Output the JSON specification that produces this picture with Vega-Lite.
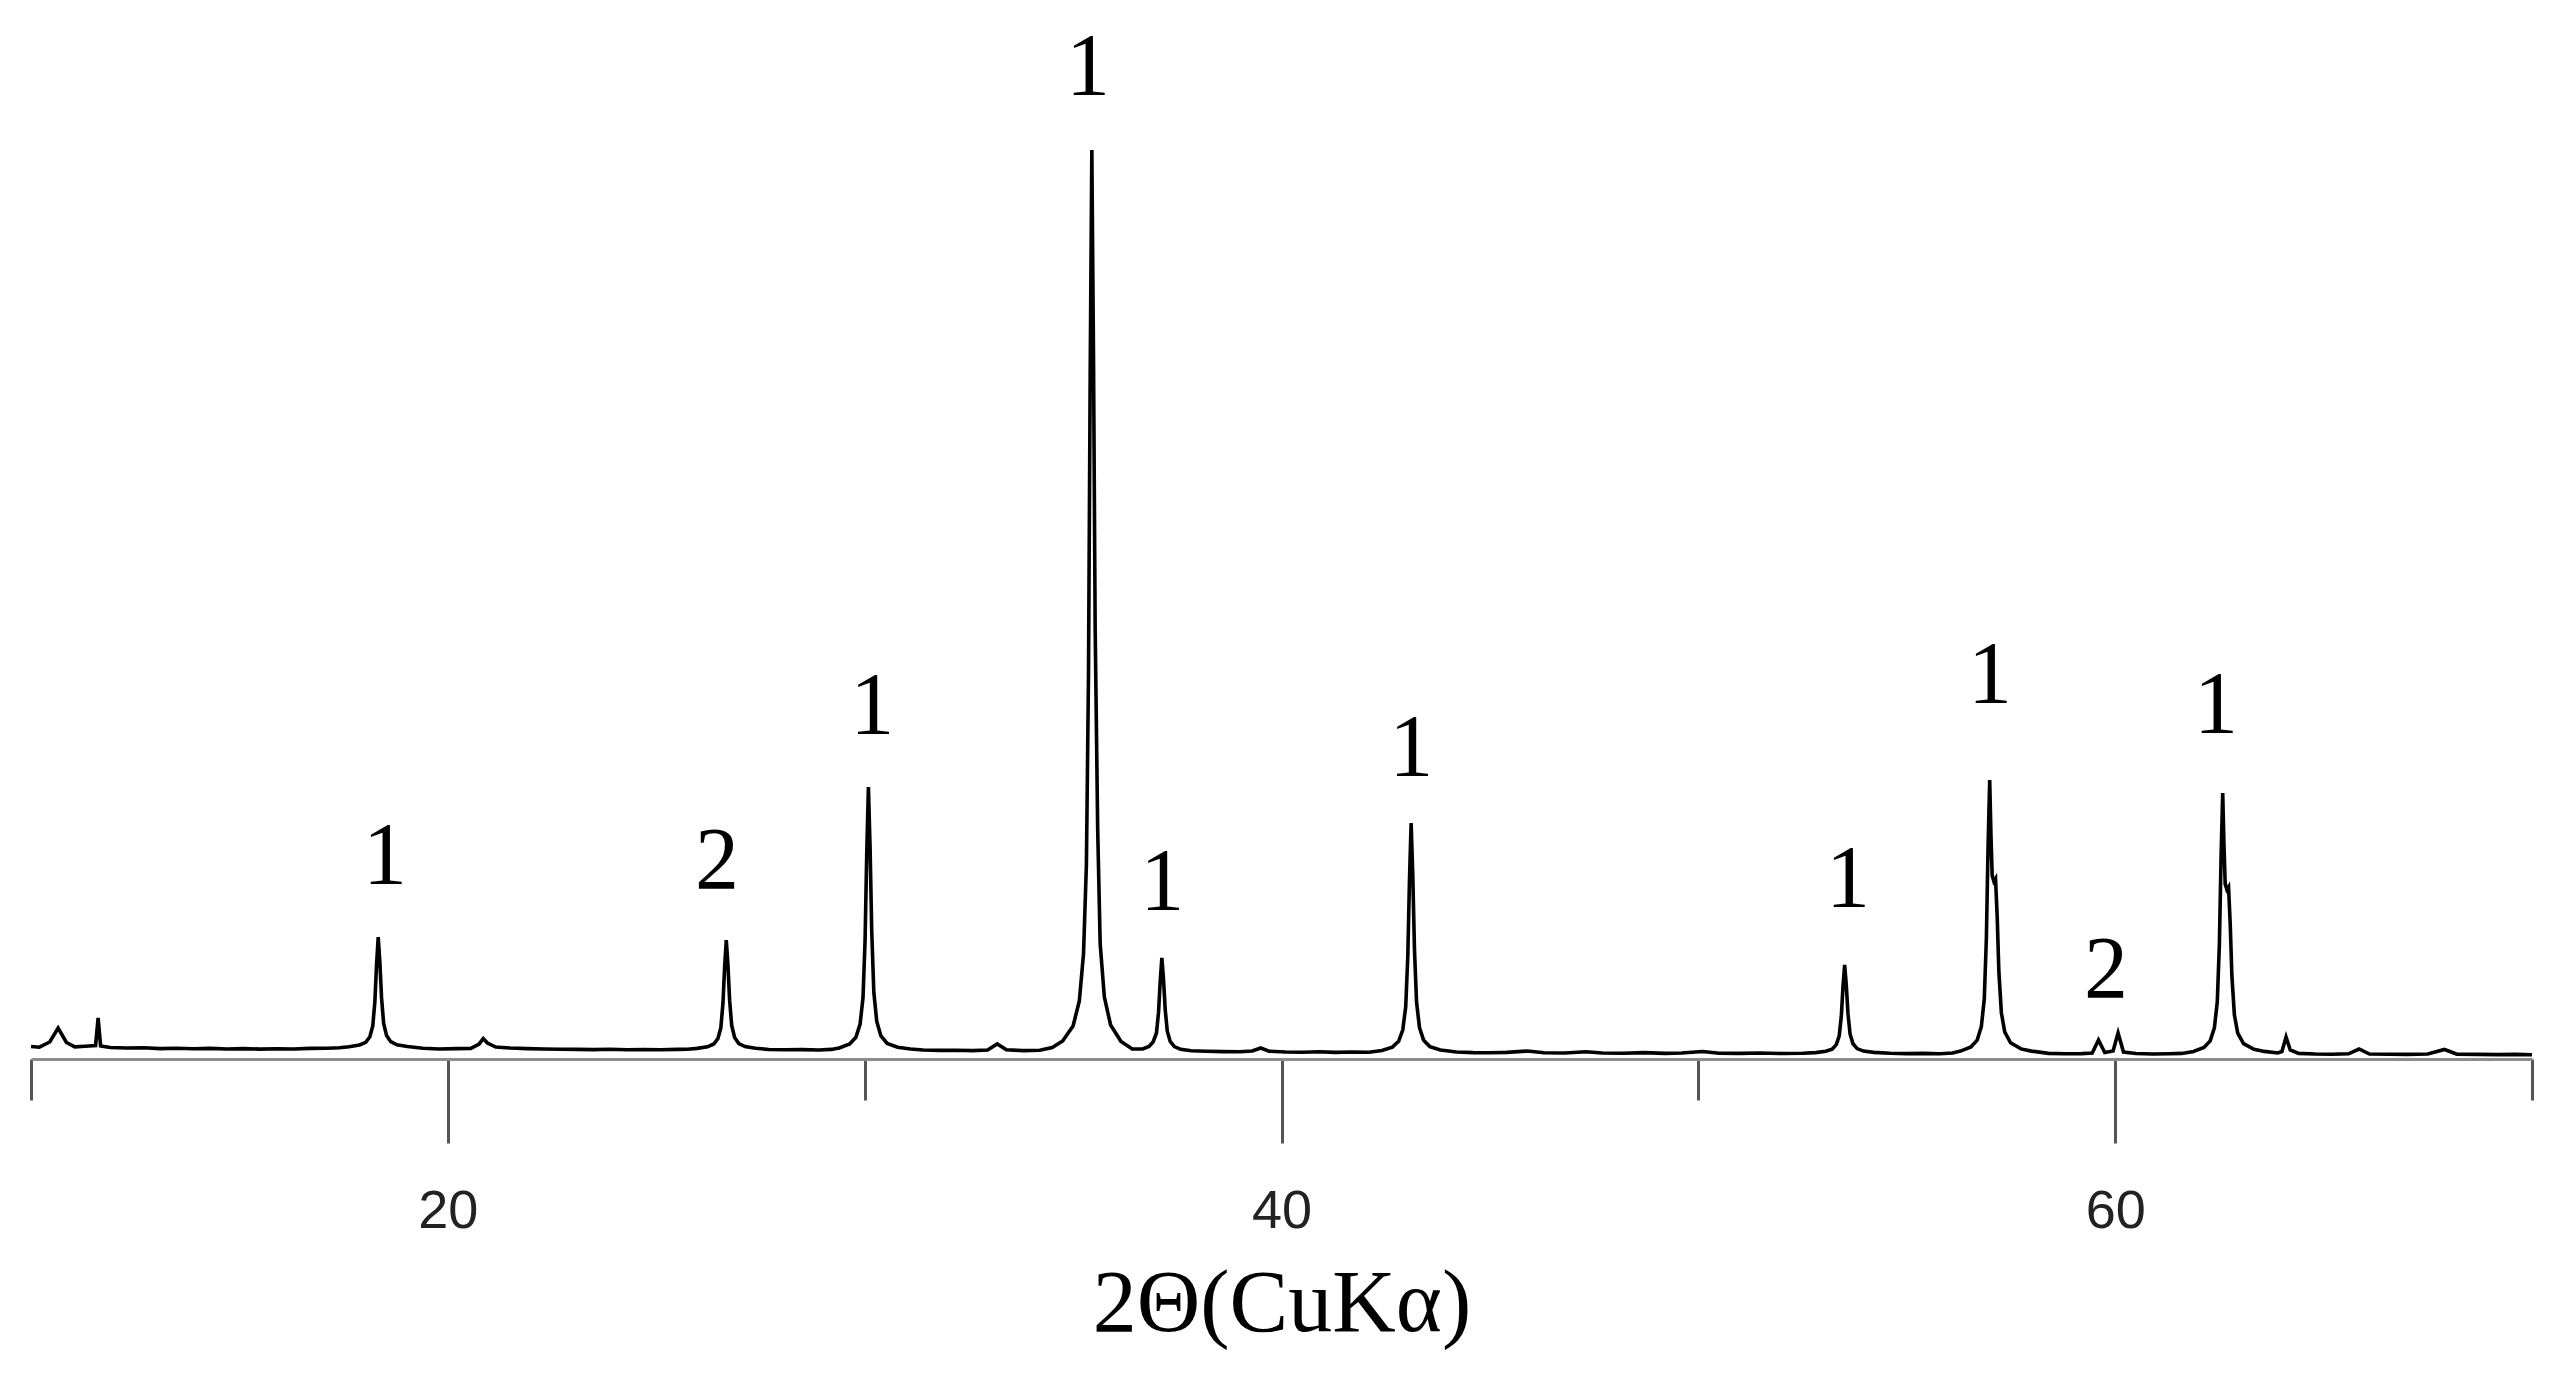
{
  "$schema": "https://vega.github.io/schema/vega-lite/v6.json",
  "width": 2501,
  "height": 1059,
  "autosize": {"type": "none"},
  "padding": {"left": 31, "top": 0, "right": 23, "bottom": 317},
  "background": "white",
  "config": {"view": {"stroke": null}},
  "datasets": {
    "xrd": [
      {"two_theta": 10.00, "intensity": 125}, {"two_theta": 10.20, "intensity": 118}, {"two_theta": 10.45, "intensity": 170},
      {"two_theta": 10.65, "intensity": 310}, {"two_theta": 10.85, "intensity": 165}, {"two_theta": 11.05, "intensity": 122},
      {"two_theta": 11.30, "intensity": 128}, {"two_theta": 11.55, "intensity": 135}, {"two_theta": 11.61, "intensity": 410},
      {"two_theta": 11.67, "intensity": 130}, {"two_theta": 11.90, "intensity": 115}, {"two_theta": 12.30, "intensity": 110},
      {"two_theta": 12.70, "intensity": 112}, {"two_theta": 13.10, "intensity": 104}, {"two_theta": 13.50, "intensity": 108},
      {"two_theta": 13.90, "intensity": 103}, {"two_theta": 14.30, "intensity": 106}, {"two_theta": 14.70, "intensity": 100},
      {"two_theta": 15.10, "intensity": 104}, {"two_theta": 15.50, "intensity": 99}, {"two_theta": 15.90, "intensity": 102},
      {"two_theta": 16.30, "intensity": 100}, {"two_theta": 16.70, "intensity": 106}, {"two_theta": 17.10, "intensity": 108},
      {"two_theta": 17.40, "intensity": 112},
      {"two_theta": 17.63, "intensity": 123}, {"two_theta": 17.88, "intensity": 140}, {"two_theta": 18.03, "intensity": 167},
      {"two_theta": 18.13, "intensity": 223}, {"two_theta": 18.20, "intensity": 334}, {"two_theta": 18.25, "intensity": 577},
      {"two_theta": 18.29, "intensity": 943}, {"two_theta": 18.33, "intensity": 1220}, {"two_theta": 18.37, "intensity": 965},
      {"two_theta": 18.41, "intensity": 611}, {"two_theta": 18.46, "intensity": 356}, {"two_theta": 18.53, "intensity": 234},
      {"two_theta": 18.63, "intensity": 173}, {"two_theta": 18.78, "intensity": 142}, {"two_theta": 19.03, "intensity": 125},
      {"two_theta": 19.40, "intensity": 108}, {"two_theta": 19.80, "intensity": 100}, {"two_theta": 20.20, "intensity": 104},
      {"two_theta": 20.55, "intensity": 106}, {"two_theta": 20.75, "intensity": 150}, {"two_theta": 20.85, "intensity": 205},
      {"two_theta": 20.95, "intensity": 160}, {"two_theta": 21.15, "intensity": 120}, {"two_theta": 21.50, "intensity": 110},
      {"two_theta": 21.90, "intensity": 104}, {"two_theta": 22.30, "intensity": 100}, {"two_theta": 22.70, "intensity": 98},
      {"two_theta": 23.10, "intensity": 96}, {"two_theta": 23.50, "intensity": 94}, {"two_theta": 23.90, "intensity": 97},
      {"two_theta": 24.30, "intensity": 93}, {"two_theta": 24.70, "intensity": 95}, {"two_theta": 25.10, "intensity": 92},
      {"two_theta": 25.50, "intensity": 96}, {"two_theta": 25.75, "intensity": 98},
      {"two_theta": 25.98, "intensity": 106}, {"two_theta": 26.23, "intensity": 122}, {"two_theta": 26.38, "intensity": 150},
      {"two_theta": 26.48, "intensity": 205}, {"two_theta": 26.55, "intensity": 314}, {"two_theta": 26.60, "intensity": 555},
      {"two_theta": 26.64, "intensity": 916}, {"two_theta": 26.68, "intensity": 1190}, {"two_theta": 26.72, "intensity": 938},
      {"two_theta": 26.76, "intensity": 588}, {"two_theta": 26.81, "intensity": 336}, {"two_theta": 26.88, "intensity": 215},
      {"two_theta": 26.98, "intensity": 155}, {"two_theta": 27.13, "intensity": 125}, {"two_theta": 27.38, "intensity": 108},
      {"two_theta": 27.70, "intensity": 95}, {"two_theta": 28.10, "intensity": 92}, {"two_theta": 28.50, "intensity": 94},
      {"two_theta": 28.90, "intensity": 90}, {"two_theta": 29.20, "intensity": 96},
      {"two_theta": 29.39, "intensity": 111}, {"two_theta": 29.64, "intensity": 151}, {"two_theta": 29.79, "intensity": 217},
      {"two_theta": 29.89, "intensity": 349}, {"two_theta": 29.96, "intensity": 612}, {"two_theta": 30.01, "intensity": 1192},
      {"two_theta": 30.05, "intensity": 2061}, {"two_theta": 30.09, "intensity": 2720}, {"two_theta": 30.13, "intensity": 2114},
      {"two_theta": 30.17, "intensity": 1271}, {"two_theta": 30.22, "intensity": 665}, {"two_theta": 30.29, "intensity": 375},
      {"two_theta": 30.39, "intensity": 230}, {"two_theta": 30.54, "intensity": 156}, {"two_theta": 30.79, "intensity": 117},
      {"two_theta": 31.10, "intensity": 100}, {"two_theta": 31.40, "intensity": 90}, {"two_theta": 31.80, "intensity": 86},
      {"two_theta": 32.20, "intensity": 88}, {"two_theta": 32.60, "intensity": 84}, {"two_theta": 32.95, "intensity": 90},
      {"two_theta": 33.18, "intensity": 150}, {"two_theta": 33.40, "intensity": 92}, {"two_theta": 33.80, "intensity": 84},
      {"two_theta": 34.20, "intensity": 88}, {"two_theta": 34.50, "intensity": 115},
      {"two_theta": 34.75, "intensity": 180}, {"two_theta": 35.00, "intensity": 330}, {"two_theta": 35.15, "intensity": 580},
      {"two_theta": 35.25, "intensity": 1050}, {"two_theta": 35.32, "intensity": 1950}, {"two_theta": 35.37, "intensity": 3861},
      {"two_theta": 35.41, "intensity": 6836}, {"two_theta": 35.45, "intensity": 9090}, {"two_theta": 35.49, "intensity": 7017},
      {"two_theta": 35.53, "intensity": 4300}, {"two_theta": 35.56, "intensity": 3300}, {"two_theta": 35.59, "intensity": 2300},
      {"two_theta": 35.65, "intensity": 1150}, {"two_theta": 35.75, "intensity": 620}, {"two_theta": 35.90, "intensity": 340},
      {"two_theta": 36.15, "intensity": 175},
      {"two_theta": 36.42, "intensity": 100}, {"two_theta": 36.67, "intensity": 100}, {"two_theta": 36.82, "intensity": 125},
      {"two_theta": 36.92, "intensity": 170}, {"two_theta": 37.00, "intensity": 260}, {"two_theta": 37.05, "intensity": 466},
      {"two_theta": 37.09, "intensity": 776}, {"two_theta": 37.13, "intensity": 1010}, {"two_theta": 37.17, "intensity": 794},
      {"two_theta": 37.21, "intensity": 494}, {"two_theta": 37.26, "intensity": 278}, {"two_theta": 37.33, "intensity": 175},
      {"two_theta": 37.43, "intensity": 124}, {"two_theta": 37.58, "intensity": 97}, {"two_theta": 37.83, "intensity": 83},
      {"two_theta": 38.20, "intensity": 78}, {"two_theta": 38.60, "intensity": 74}, {"two_theta": 39.00, "intensity": 72},
      {"two_theta": 39.30, "intensity": 80}, {"two_theta": 39.50, "intensity": 110}, {"two_theta": 39.70, "intensity": 78},
      {"two_theta": 40.10, "intensity": 70}, {"two_theta": 40.50, "intensity": 68}, {"two_theta": 40.90, "intensity": 72},
      {"two_theta": 41.30, "intensity": 66}, {"two_theta": 41.70, "intensity": 70}, {"two_theta": 42.10, "intensity": 68},
      {"two_theta": 42.41, "intensity": 85}, {"two_theta": 42.66, "intensity": 119}, {"two_theta": 42.81, "intensity": 177},
      {"two_theta": 42.91, "intensity": 292}, {"two_theta": 42.98, "intensity": 522}, {"two_theta": 43.03, "intensity": 1027},
      {"two_theta": 43.07, "intensity": 1786}, {"two_theta": 43.11, "intensity": 2360}, {"two_theta": 43.15, "intensity": 1831},
      {"two_theta": 43.19, "intensity": 1096}, {"two_theta": 43.24, "intensity": 568}, {"two_theta": 43.31, "intensity": 315},
      {"two_theta": 43.41, "intensity": 188}, {"two_theta": 43.56, "intensity": 124}, {"two_theta": 43.81, "intensity": 90},
      {"two_theta": 44.20, "intensity": 70}, {"two_theta": 44.60, "intensity": 64}, {"two_theta": 45.00, "intensity": 62},
      {"two_theta": 45.40, "intensity": 66}, {"two_theta": 45.90, "intensity": 80}, {"two_theta": 46.30, "intensity": 62},
      {"two_theta": 46.80, "intensity": 60}, {"two_theta": 47.30, "intensity": 72}, {"two_theta": 47.70, "intensity": 60},
      {"two_theta": 48.20, "intensity": 58}, {"two_theta": 48.70, "intensity": 64}, {"two_theta": 49.20, "intensity": 56},
      {"two_theta": 49.60, "intensity": 60}, {"two_theta": 50.10, "intensity": 75}, {"two_theta": 50.50, "intensity": 58},
      {"two_theta": 51.00, "intensity": 56}, {"two_theta": 51.50, "intensity": 60}, {"two_theta": 52.00, "intensity": 55},
      {"two_theta": 52.50, "intensity": 58},
      {"two_theta": 52.81, "intensity": 64}, {"two_theta": 53.06, "intensity": 77}, {"two_theta": 53.21, "intensity": 99},
      {"two_theta": 53.31, "intensity": 144}, {"two_theta": 53.38, "intensity": 232}, {"two_theta": 53.43, "intensity": 427},
      {"two_theta": 53.47, "intensity": 719}, {"two_theta": 53.51, "intensity": 940}, {"two_theta": 53.55, "intensity": 736},
      {"two_theta": 53.59, "intensity": 453}, {"two_theta": 53.64, "intensity": 250}, {"two_theta": 53.71, "intensity": 152},
      {"two_theta": 53.81, "intensity": 104}, {"two_theta": 53.96, "intensity": 79}, {"two_theta": 54.21, "intensity": 66},
      {"two_theta": 54.60, "intensity": 58}, {"two_theta": 55.00, "intensity": 54}, {"two_theta": 55.40, "intensity": 56},
      {"two_theta": 55.80, "intensity": 52}, {"two_theta": 56.10, "intensity": 60},
      {"two_theta": 56.29, "intensity": 79}, {"two_theta": 56.54, "intensity": 120}, {"two_theta": 56.69, "intensity": 189},
      {"two_theta": 56.79, "intensity": 326}, {"two_theta": 56.86, "intensity": 600}, {"two_theta": 56.91, "intensity": 1202},
      {"two_theta": 56.95, "intensity": 2106}, {"two_theta": 56.99, "intensity": 2790}, {"two_theta": 57.02, "intensity": 2242},
      {"two_theta": 57.05, "intensity": 1832}, {"two_theta": 57.09, "intensity": 1777}, {"two_theta": 57.13, "intensity": 1804},
      {"two_theta": 57.17, "intensity": 1421}, {"two_theta": 57.21, "intensity": 873}, {"two_theta": 57.27, "intensity": 463},
      {"two_theta": 57.35, "intensity": 271}, {"two_theta": 57.49, "intensity": 162}, {"two_theta": 57.74, "intensity": 101},
      {"two_theta": 57.99, "intensity": 79},
      {"two_theta": 58.40, "intensity": 56}, {"two_theta": 58.80, "intensity": 52}, {"two_theta": 59.20, "intensity": 54},
      {"two_theta": 59.45, "intensity": 60}, {"two_theta": 59.60, "intensity": 190}, {"two_theta": 59.75, "intensity": 65},
      {"two_theta": 59.95, "intensity": 80}, {"two_theta": 60.07, "intensity": 260}, {"two_theta": 60.20, "intensity": 70},
      {"two_theta": 60.50, "intensity": 55}, {"two_theta": 60.90, "intensity": 50}, {"two_theta": 61.30, "intensity": 52},
      {"two_theta": 61.60, "intensity": 56},
      {"two_theta": 61.88, "intensity": 76}, {"two_theta": 62.13, "intensity": 115}, {"two_theta": 62.28, "intensity": 181},
      {"two_theta": 62.38, "intensity": 311}, {"two_theta": 62.45, "intensity": 572}, {"two_theta": 62.50, "intensity": 1146},
      {"two_theta": 62.54, "intensity": 2008}, {"two_theta": 62.58, "intensity": 2660}, {"two_theta": 62.61, "intensity": 2138},
      {"two_theta": 62.64, "intensity": 1747}, {"two_theta": 62.68, "intensity": 1694}, {"two_theta": 62.72, "intensity": 1720},
      {"two_theta": 62.76, "intensity": 1355}, {"two_theta": 62.80, "intensity": 833}, {"two_theta": 62.86, "intensity": 442},
      {"two_theta": 62.94, "intensity": 259}, {"two_theta": 63.08, "intensity": 154}, {"two_theta": 63.33, "intensity": 97},
      {"two_theta": 63.58, "intensity": 76},
      {"two_theta": 63.90, "intensity": 60}, {"two_theta": 64.00, "intensity": 75}, {"two_theta": 64.10, "intensity": 220},
      {"two_theta": 64.20, "intensity": 90}, {"two_theta": 64.40, "intensity": 56}, {"two_theta": 64.80, "intensity": 50},
      {"two_theta": 65.20, "intensity": 48}, {"two_theta": 65.60, "intensity": 52}, {"two_theta": 65.85, "intensity": 100},
      {"two_theta": 66.10, "intensity": 50}, {"two_theta": 66.60, "intensity": 48}, {"two_theta": 67.00, "intensity": 46},
      {"two_theta": 67.50, "intensity": 50}, {"two_theta": 67.90, "intensity": 95}, {"two_theta": 68.20, "intensity": 48},
      {"two_theta": 68.70, "intensity": 46}, {"two_theta": 69.20, "intensity": 44}, {"two_theta": 69.60, "intensity": 46},
      {"two_theta": 70.00, "intensity": 42}
    ],
    "labels": [
      {"two_theta": 18.49, "intensity": 1760, "phase": "1"},
      {"two_theta": 26.46, "intensity": 1710, "phase": "2"},
      {"two_theta": 30.18, "intensity": 3260, "phase": "1"},
      {"two_theta": 35.36, "intensity": 9650, "phase": "1"},
      {"two_theta": 37.14, "intensity": 1500, "phase": "1"},
      {"two_theta": 43.11, "intensity": 2840, "phase": "1"},
      {"two_theta": 53.59, "intensity": 1530, "phase": "1"},
      {"two_theta": 57.00, "intensity": 3570, "phase": "1"},
      {"two_theta": 59.78, "intensity": 620, "phase": "2"},
      {"two_theta": 62.42, "intensity": 3270, "phase": "1"}
    ]
  },
  "layer": [
    {
      "data": {"name": "xrd"},
      "mark": {"type": "line", "color": "black", "strokeWidth": 3.6, "interpolate": "linear"},
      "encoding": {
        "x": {
          "field": "two_theta", "type": "quantitative",
          "scale": {"domain": [10, 70], "nice": false, "zero": false},
          "axis": {
            "values": [10, 20, 30, 40, 50, 60, 70],
            "grid": false,
            "domainColor": "#8c8c8c", "domainWidth": 3,
            "tickColor": "#555555", "tickWidth": 3,
            "tickSize": {"condition": {"test": "datum.value % 20 === 0", "value": 84}, "value": 41},
            "labelExpr": "datum.value % 20 === 0 ? datum.label : ''",
            "labelFont": "Liberation Sans", "labelFontSize": 54, "labelColor": "#222222",
            "labelPadding": 41, "labelFlush": false, "labelOverlap": false,
            "title": "2Θ(CuKα)",
            "titleFont": "Liberation Serif", "titleFontSize": 88, "titleFontWeight": "normal", "titleColor": "black",
            "titleY": 271, "titleBaseline": "alphabetic"
          }
        },
        "y": {
          "field": "intensity", "type": "quantitative",
          "scale": {"domain": [0, 10590], "nice": false},
          "axis": null
        }
      }
    },
    {
      "data": {"name": "labels"},
      "mark": {"type": "text", "font": "Liberation Serif", "fontSize": 88, "baseline": "alphabetic", "align": "center", "color": "black"},
      "encoding": {
        "x": {"field": "two_theta", "type": "quantitative"},
        "y": {"field": "intensity", "type": "quantitative"},
        "text": {"field": "phase"}
      }
    }
  ]
}
